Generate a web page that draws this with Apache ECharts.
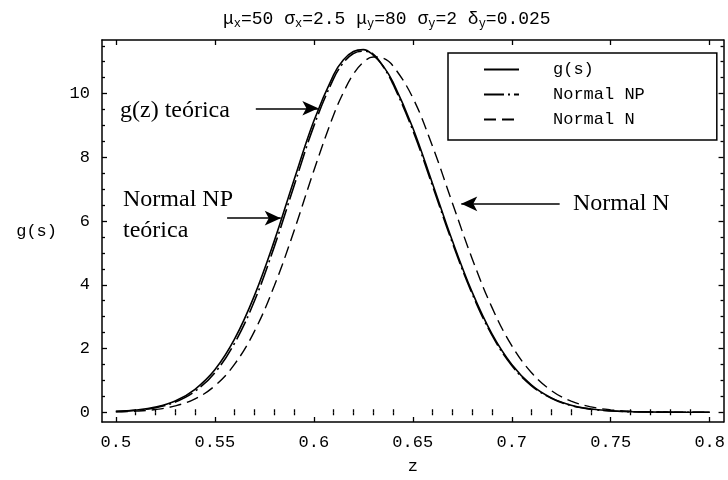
<!DOCTYPE html>
<html>
<head>
<meta charset="utf-8">
<script src="https://cdn.jsdelivr.net/npm/echarts@6/dist/echarts.min.js"></script>
<style>html,body{margin:0;padding:0;background:#fff}#c{width:728px;height:480px}</style>
</head>
<body>
<div id="c"></div>
<script>
// ---- data ----
const zValues = [0.50,0.51,0.52,0.53,0.54,0.55,0.56,0.57,0.58,0.59,0.60,0.61,0.615,0.62,0.625,0.63,0.635,0.64,0.65,0.66,0.67,0.68,0.69,0.70,0.71,0.72,0.73,0.74,0.75,0.76,0.77,0.78,0.79,0.80];
const gValues = [0.027,0.069,0.16,0.35,0.72,1.33,2.30,3.66,5.37,7.29,9.14,10.59,11.06,11.32,11.38,11.21,10.87,10.36,8.93,7.17,5.38,3.77,2.46,1.50,0.85,0.45,0.22,0.10,0.045,0.018,0.007,0.003,0.001,0];
const npValues = [0.023,0.060,0.144,0.32,0.66,1.24,2.17,3.49,5.19,7.10,8.98,10.47,10.97,11.26,11.33,11.24,10.85,10.30,8.85,7.10,5.32,3.72,2.42,1.47,0.83,0.44,0.21,0.095,0.04,0.016,0.006,0.002,0.001,0];
const nValues = [0.013,0.034,0.086,0.20,0.42,0.83,1.51,2.54,3.96,5.69,7.58,9.33,10.04,10.61,10.98,11.15,11.11,10.87,9.87,8.34,6.57,4.82,3.29,2.09,1.24,0.68,0.35,0.17,0.075,0.031,0.012,0.004,0.001,0];
const seriesNames = ['g(s)','Normal NP','Normal N'];
const xMajorTicks = [0.5,0.55,0.6,0.65,0.7,0.75,0.8];
const xMinorTicks = [0.51,0.52,0.53,0.54,0.56,0.57,0.58,0.59,0.61,0.62,0.63,0.64,0.66,0.67,0.68,0.69,0.71,0.72,0.73,0.74,0.76,0.77,0.78,0.79];
const yMajorTicks = [0,2,4,6,8,10];
const yMinorTicks = [0.5,1,1.5,2.5,3,3.5,4.5,5,5.5,6.5,7,7.5,8.5,9,9.5,10.5,11,11.5];
const xRange = [0.493,0.807];
const yRange = [-0.306,11.682];
const titleText = 'μ{s|x}=50 σ{s|x}=2.5 μ{s|y}=80 σ{s|y}=2 δ{s|y}=0.025';
// annotations: label text, arrow from [z,y] to [z,y]
const annoLabels = ['g(z) teórica','Normal NP','teórica','Normal N'];
const arrowG = [[0.5707,9.54],[0.6023,9.54]];
const arrowNP = [[0.5562,6.09],[0.5833,6.09]];
const arrowN = [[0.7242,6.54],[0.6745,6.54]];

const pairs = v => zValues.map((z,i)=>[z,v[i]]);
const MONO = '"Liberation Mono", "DejaVu Sans Mono", monospace';
const SERIF = '"Liberation Serif", "DejaVu Serif", serif';
const BLK = '#000';
const axLine = {show:true,onZero:false,lineStyle:{color:BLK,width:1.5}};
const fmt = v => String(+(+v).toFixed(2));

function xAx(pos, ticks, len, labels){
  return {type:'value',min:xRange[0],max:xRange[1],position:pos,
    axisLine:(pos==='bottom'&&labels)||(pos==='top'&&len===5)?axLine:{show:false},
    axisTick:{show:true,inside:true,length:len,customValues:ticks,lineStyle:{color:BLK,width:1.3}},
    axisLabel:labels?{show:true,customValues:ticks,formatter:fmt,fontFamily:MONO,fontSize:17,color:BLK,margin:12}:{show:false},
    splitLine:{show:false},minorTick:{show:false},
    name:labels?'z':'',nameLocation:'middle',nameGap:36,
    nameTextStyle:{fontFamily:MONO,fontSize:17,color:BLK}};
}
function yAx(pos, ticks, len, labels){
  return {type:'value',min:yRange[0],max:yRange[1],position:pos,
    axisLine:(pos==='left'&&labels)||(pos==='right'&&len===5)?axLine:{show:false},
    axisTick:{show:true,inside:true,length:len,customValues:ticks,lineStyle:{color:BLK,width:1.3}},
    axisLabel:labels?{show:true,customValues:ticks,formatter:fmt,fontFamily:MONO,fontSize:17,color:BLK,margin:12}:{show:false},
    splitLine:{show:false},minorTick:{show:false},
    name:labels?'g(s)':'',nameLocation:'middle',nameGap:45,nameRotate:0,
    nameTextStyle:{fontFamily:MONO,fontSize:17,color:BLK}};
}

const chart = echarts.init(document.getElementById('c'),null,{renderer:'canvas'});
const arrowLine = (a)=>[{coord:a[0]},{coord:a[1]}];
chart.setOption({
  backgroundColor:'#fff',
  animation:false,
  color:[BLK,BLK,BLK],
  title:{text:titleText,left:218,top:4,
    textStyle:{fontFamily:MONO,fontSize:18,fontWeight:'normal',color:BLK,
      rich:{s:{fontFamily:MONO,fontSize:12,color:BLK,verticalAlign:'bottom',padding:[9,0,0,0]}}}},
  grid:{left:102,right:0.5,top:40,bottom:48,containLabel:false},
  legend:{data:seriesNames,orient:'vertical',left:448,top:53,
    itemWidth:35,itemHeight:14,itemGap:8,
    padding:[8,72,12,35],borderColor:BLK,borderWidth:1.5,backgroundColor:'#fff',
    itemStyle:{opacity:0,color:'rgba(0,0,0,0)',borderWidth:0},
    textStyle:{fontFamily:MONO,fontSize:17,color:BLK,lineHeight:14,padding:[0,0,0,29]}},
  xAxis:[xAx('bottom',xMajorTicks,5,true),xAx('bottom',xMinorTicks,3,false),xAx('top',xMajorTicks,5,false),xAx('top',xMinorTicks,3,false)],
  yAxis:[yAx('left',yMajorTicks,5,true),yAx('left',yMinorTicks,3,false),yAx('right',yMajorTicks,5,false),yAx('right',yMinorTicks,3,false)],
  series:[
    {name:seriesNames[0],type:'line',data:pairs(gValues),smooth:0.4,symbol:'none',
      itemStyle:{color:BLK},
      lineStyle:{color:BLK,width:1.6,type:'solid'},
      markLine:{silent:true,symbol:['none','arrow'],symbolSize:[11,16],label:{show:false},
        lineStyle:{color:BLK,width:1.5,type:'solid'},
        data:[arrowLine(arrowG),arrowLine(arrowNP),arrowLine(arrowN)]}},
    {name:seriesNames[1],type:'line',data:pairs(npValues),smooth:0.4,symbol:'none',
      itemStyle:{color:BLK},
      lineStyle:{color:BLK,width:1.6,type:[20,4,2,4]}},
    {name:seriesNames[2],type:'line',data:pairs(nValues),smooth:0.4,symbol:'none',
      itemStyle:{color:BLK},
      lineStyle:{color:BLK,width:1.4,type:[12,6]}}
  ],
  graphic:[
    {type:'text',x:120,y:111,style:{text:annoLabels[0],font:'24px '+SERIF,fill:BLK,verticalAlign:'middle'}},
    {type:'text',x:123,y:200,style:{text:annoLabels[1],font:'24px '+SERIF,fill:BLK,verticalAlign:'middle'}},
    {type:'text',x:123,y:231,style:{text:annoLabels[2],font:'24px '+SERIF,fill:BLK,verticalAlign:'middle'}},
    {type:'text',x:573,y:204,style:{text:annoLabels[3],font:'24px '+SERIF,fill:BLK,verticalAlign:'middle'}}
  ]
});
</script>
</body>
</html>
